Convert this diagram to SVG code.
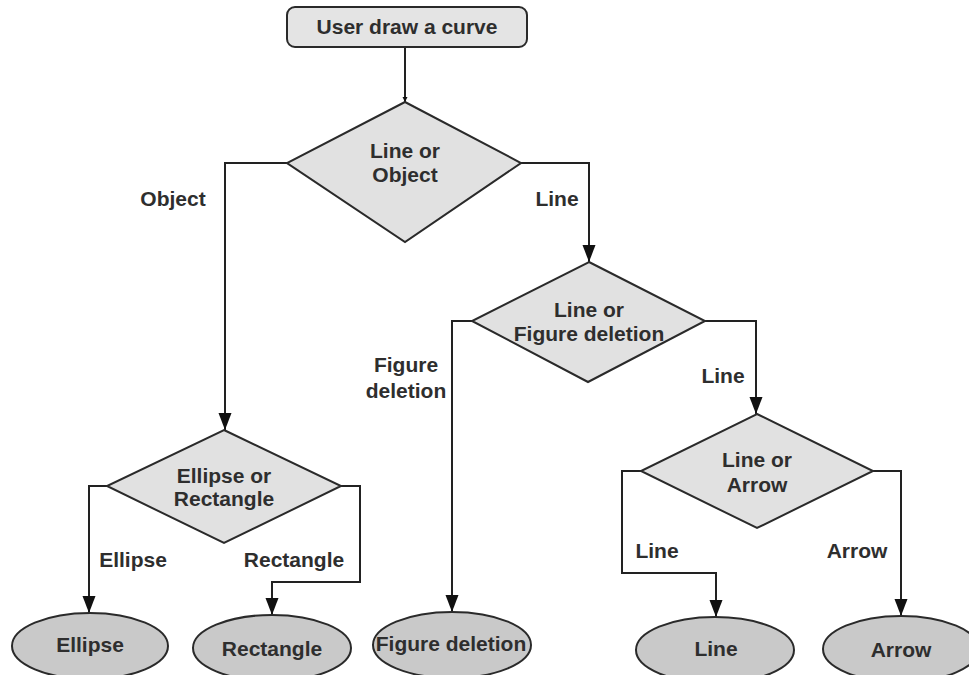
<svg xmlns="http://www.w3.org/2000/svg" width="969" height="675" viewBox="0 0 969 675">
<style>
text{font-family:"Liberation Sans",Arial,sans-serif;font-weight:bold;font-size:21px;fill:#2e2e2e;text-anchor:middle}
.box{fill:#e4e4e4;stroke:#2a2a2a;stroke-width:2}
.dia{fill:#e1e1e1;stroke:#2a2a2a;stroke-width:2}
.ell{fill:#c9c9c9;stroke:#2a2a2a;stroke-width:2}
.con{fill:none;stroke:#222;stroke-width:2;marker-end:url(#ah)}
</style>
<defs>
<marker id="ah" markerUnits="userSpaceOnUse" markerWidth="14" markerHeight="18" refX="7" refY="17" orient="auto-start-reverse" viewBox="0 0 14 18"><path d="M0,0 L14,0 L7,17 z" fill="#111" transform="rotate(-90 7 9) translate(0 0)"/></marker>
<marker id="ah2" markerUnits="userSpaceOnUse" markerWidth="18" markerHeight="14" refX="17" refY="7" orient="auto" viewBox="0 0 18 14"><path d="M0,0.5 L17,7 L0,13.5 z" fill="#111"/></marker>
<marker id="ahs" markerUnits="userSpaceOnUse" markerWidth="6" markerHeight="6" refX="5" refY="3" orient="auto" viewBox="0 0 6 6"><path d="M0,0.5 L5,3 L0,5.5 z" fill="#111"/></marker>
</defs>
<rect width="969" height="675" fill="#fff"/>
<g id="connectors">
<path d="M405,47 V102" fill="none" stroke="#222" stroke-width="2" marker-end="url(#ahs)"/>
<path d="M287,163 H225 V430" fill="none" stroke="#222" stroke-width="2" marker-end="url(#ah2)"/>
<path d="M521,163 H589 V262" fill="none" stroke="#222" stroke-width="2" marker-end="url(#ah2)"/>
<path d="M472,321 H452 V612" fill="none" stroke="#222" stroke-width="2" marker-end="url(#ah2)"/>
<path d="M705,321 H756 V414" fill="none" stroke="#222" stroke-width="2" marker-end="url(#ah2)"/>
<path d="M107,486 H89 V613" fill="none" stroke="#222" stroke-width="2" marker-end="url(#ah2)"/>
<path d="M341,486 H360 V582 H272 V615" fill="none" stroke="#222" stroke-width="2" marker-end="url(#ah2)"/>
<path d="M641,471 H622 V573 H716 V617" fill="none" stroke="#222" stroke-width="2" marker-end="url(#ah2)"/>
<path d="M873,471 H901 V616" fill="none" stroke="#222" stroke-width="2" marker-end="url(#ah2)"/>
<text x="173" y="206">Object</text>
<text x="557" y="206">Line</text>
<text x="406" y="372">Figure</text>
<text x="406" y="398">deletion</text>
<text x="723" y="383">Line</text>
<text x="133" y="567">Ellipse</text>
<text x="294" y="567">Rectangle</text>
<text x="657" y="558">Line</text>
<text x="857" y="558">Arrow</text>
</g>
<g id="start">
<rect class="box" x="287" y="7" width="240" height="40" rx="8"/>
<text x="407" y="34">User draw a curve</text>
</g>
<g id="d1">
<polygon class="dia" points="405,102 521,163 405,242 287,163"/>
<text x="405" y="158">Line or</text>
<text x="405" y="182">Object</text>
</g>
<g id="d2">
<polygon class="dia" points="589,262 705,321 588,382 472,321"/>
<text x="589" y="317">Line or</text>
<text x="589" y="341">Figure deletion</text>
</g>
<g id="d3">
<polygon class="dia" points="224,430 341,486 224,543 107,486"/>
<text x="224" y="483">Ellipse or</text>
<text x="224" y="506">Rectangle</text>
</g>
<g id="d4">
<polygon class="dia" points="757,414 873,471 757,528 641,471"/>
<text x="757" y="467">Line or</text>
<text x="757" y="492">Arrow</text>
</g>
<g id="e-ellipse">
<ellipse class="ell" cx="90" cy="646" rx="78" ry="33"/>
<text x="90" y="652">Ellipse</text>
</g>
<g id="e-rectangle">
<ellipse class="ell" cx="272" cy="648" rx="79" ry="33"/>
<text x="272" y="656">Rectangle</text>
</g>
<g id="e-figure">
<ellipse class="ell" cx="452" cy="645" rx="79" ry="33"/>
<text x="451" y="651">Figure deletion</text>
</g>
<g id="e-line">
<ellipse class="ell" cx="715" cy="650" rx="79" ry="33"/>
<text x="716" y="656">Line</text>
</g>
<g id="e-arrow">
<ellipse class="ell" cx="901" cy="649" rx="78" ry="33"/>
<text x="901" y="657">Arrow</text>
</g>
</svg>
